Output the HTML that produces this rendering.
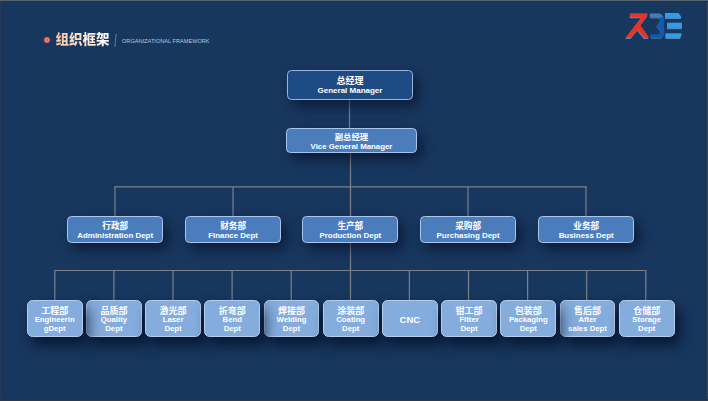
<!DOCTYPE html>
<html lang="zh"><head><meta charset="utf-8"><title>组织框架</title>
<style>
html,body{margin:0;padding:0;}
body{width:708px;height:401px;overflow:hidden;position:relative;background:#17365f;font-family:"Liberation Sans", "Noto Sans CJK SC", sans-serif;color:#fff;}
#bg{position:absolute;left:0;top:0;width:708px;height:401px;background:#18375f;}
#frame{position:absolute;left:0;top:0;width:708px;height:401px;z-index:50;}
#frame i{position:absolute;display:block;}
.bx{position:absolute;box-sizing:border-box;border-radius:4.5px;text-align:center;font-weight:bold;box-shadow:5px 6px 13px rgba(3,10,32,0.62);display:flex;flex-direction:column;justify-content:center;align-items:center;}
.bx .cn{display:block;white-space:nowrap;}
.bx .en{display:block;white-space:nowrap;}
.b1{background:#1f4b85;border:1px solid #98b6d9;}
.b2{background:#4b7dbd;border:1px solid #a9c6ea;}
.b4{background:#84acdd;border:1px solid #b4cdec;border-radius:5.5px;box-shadow:5px 8px 14px rgba(2,8,28,0.7);}
.b12 .cn{font-size:9px;line-height:10px;margin-top:2.6px;}
.b12 .en{font-size:8px;line-height:10px;}
.bv .cn{font-size:8.4px;}
.bv .en{font-size:7.85px;}
.b3 .cn{font-size:8.6px;line-height:9.4px;margin-top:2.9px;margin-bottom:-0.7px;}
.b3 .en{font-size:7.95px;line-height:9.6px;}
.b4 .cnc{font-size:9.5px;line-height:11px;display:block;margin-top:2px;}
.b4 .cn{font-size:9px;line-height:9.4px;margin-top:3.0px;margin-bottom:0.4px;}
.b4 .en{font-size:7.75px;line-height:8.6px;}
#ttl{position:absolute;left:55.5px;top:30.3px;font-size:13.5px;line-height:20px;font-weight:900;white-space:nowrap;background:linear-gradient(90deg,#f7c7a8 0%,#ffffff 100%);-webkit-background-clip:text;background-clip:text;color:transparent;}
#sub{position:absolute;left:122px;top:37.1px;font-size:5.58px;line-height:9px;white-space:nowrap;color:#bcc5d3;letter-spacing:0.02px;}
#dot{position:absolute;left:43.5px;top:37px;width:6px;height:6px;border-radius:50%;background:#e8705c;}
#slash{position:absolute;left:115.1px;top:34.2px;width:0.8px;height:12.6px;background:#6c7a92;transform:skewX(-6.5deg);}
svg{position:absolute;left:0;top:0;}
</style></head><body>
<div id="bg"></div>
<svg width="708" height="401" viewBox="0 0 708 401"><g stroke="#7b808a" stroke-width="1.2" fill="none"><path d="M349.5 100.0L349.5 129.0"/><path d="M350.5 152.0L350.5 300.0"/><path d="M114.4 186.8L586.6 186.8"/><path d="M115.0 186.8L115.0 216.0"/><path d="M233.0 186.8L233.0 216.0"/><path d="M468.0 186.8L468.0 216.0"/><path d="M586.0 186.8L586.0 216.0"/><path d="M54.2 270.5L646.4 270.5"/><path d="M54.8 270.5L54.8 300.0"/><path d="M113.9 270.5L113.9 300.0"/><path d="M173.0 270.5L173.0 300.0"/><path d="M232.1 270.5L232.1 300.0"/><path d="M291.2 270.5L291.2 300.0"/><path d="M409.4 270.5L409.4 300.0"/><path d="M468.5 270.5L468.5 300.0"/><path d="M527.6 270.5L527.6 300.0"/><path d="M586.7 270.5L586.7 300.0"/><path d="M645.8 270.5L645.8 300.0"/></g></svg>
<div id="dot"></div><div id="ttl">组织框架</div><div id="slash"></div><div id="sub">ORGANIZATIONAL FRAMEWORK</div>
<svg id="logo" width="708" height="401" viewBox="0 0 708 401">
<g fill="#5f84b3">
<path transform="translate(-0.5,1.3)" d="M630.2 13.2H645.6Q648.4 13.3 647.3 15.8L640.2 24.9L649.1 37.6H644.2L637.7 29.4L631.1 37.6H625.6L641.6 17H630.2Z"/>
<path transform="translate(-0.3,0.9)" opacity="0.7" d="M649.8 13.6H660.3L664.3 17.6V23.9L663 25.7L664.3 27.5V33.9L661.1 37.8H651.4L650.6 34.2H660V30.2L656.6 25.7L660 21.4V17.6H650.2Z"/>
<path transform="translate(0,2.1)" d="M665 13.1H678.6L681.4 17H665Z"/><path transform="translate(0,1.05)" d="M665 13.1H678.6L681.4 17H665Z"/>
<path transform="translate(0,2.1)" d="M667 22.7H681.9V27.1H667Z"/><path transform="translate(0,1.05)" d="M667 22.7H681.9V27.1H667Z"/>
<path transform="translate(0,1.6)" d="M665.6 33.3H681.6L680 37.3H665.6Z"/><path transform="translate(0,0.8)" d="M665.6 33.3H681.6L680 37.3H665.6Z"/>
</g>
<path fill="#e83323" d="M630.2 13.2H645.6Q648.4 13.3 647.3 15.8L640.2 24.9L649.1 37.6H644.2L637.7 29.4L631.1 37.6H625.6L641.6 17H630.2Z"/>
<path fill="#0e5cb2" d="M649.8 13.6H660.3L664.3 17.6V23.9L663 25.7L664.3 27.5V33.9L661.1 37.8H651.4L650.6 34.2H660V30.2L656.6 25.7L660 21.4V17.6H650.2Z"/>
<path fill="#6e8fbd" opacity="0.6" d="M649.8 13.6H660.3L663.2 16.5L660 17.6H650.2Z"/>
<path fill="#2b9fe9" d="M665 13.1H678.6L681.4 17H665Z"/><path fill="#2b9fe9" d="M667 22.7H681.9V27.1H667Z"/><path fill="#2b9fe9" d="M665.6 33.3H681.6L680 37.3H665.6Z"/>
</svg>
<div class="bx b1 b12" style="left:287.2px;top:70.4px;width:125.6px;height:29.2px"><span class="cn">总经理</span><span class="en">General Manager</span></div>
<div class="bx b2 b12 bv" style="left:286.0px;top:128.4px;width:131.0px;height:24.2px"><span class="cn">副总经理</span><span class="en">Vice General Manager</span></div>
<div class="bx b2 b3" style="left:67.3px;top:216.1px;width:95.8px;height:26.9px"><span class="cn">行政部</span><span class="en">Administration Dept</span></div>
<div class="bx b2 b3" style="left:185.2px;top:216.1px;width:95.8px;height:26.9px"><span class="cn">财务部</span><span class="en">Finance Dept</span></div>
<div class="bx b2 b3" style="left:302.4px;top:216.1px;width:95.8px;height:26.9px"><span class="cn">生产部</span><span class="en">Production Dept</span></div>
<div class="bx b2 b3" style="left:420.2px;top:216.1px;width:95.8px;height:26.9px"><span class="cn">采购部</span><span class="en">Purchasing Dept</span></div>
<div class="bx b2 b3" style="left:538.3px;top:216.1px;width:95.8px;height:26.9px"><span class="cn">业务部</span><span class="en">Business Dept</span></div>
<div class="bx b4" style="z-index:5;left:26.8px;top:300.0px;width:55.8px;height:37.3px"><span class="cn">工程部</span><span class="en">Engineerin<br>gDept</span></div>
<div class="bx b4" style="z-index:1;left:86.0px;top:300.0px;width:55.8px;height:37.3px"><span class="cn">品质部</span><span class="en">Quality<br>Dept</span></div>
<div class="bx b4" style="z-index:5;left:145.2px;top:300.0px;width:55.8px;height:37.3px"><span class="cn">激光部</span><span class="en">Laser<br>Dept</span></div>
<div class="bx b4" style="z-index:5;left:204.4px;top:300.0px;width:55.8px;height:37.3px"><span class="cn">折弯部</span><span class="en">Bend<br>Dept</span></div>
<div class="bx b4" style="z-index:1;left:263.6px;top:300.0px;width:55.8px;height:37.3px"><span class="cn">焊接部</span><span class="en">Welding<br>Dept</span></div>
<div class="bx b4" style="z-index:5;left:322.8px;top:300.0px;width:55.8px;height:37.3px"><span class="cn">涂装部</span><span class="en">Coating<br>Dept</span></div>
<div class="bx b4" style="z-index:5;left:382.0px;top:300.0px;width:55.8px;height:37.3px"><span class="en"><span class="cnc">CNC</span></span></div>
<div class="bx b4" style="z-index:5;left:441.2px;top:300.0px;width:55.8px;height:37.3px"><span class="cn">钳工部</span><span class="en">Fitter<br>Dept</span></div>
<div class="bx b4" style="z-index:5;left:500.4px;top:300.0px;width:55.8px;height:37.3px"><span class="cn">包装部</span><span class="en">Packaging<br>Dept</span></div>
<div class="bx b4" style="z-index:1;left:559.6px;top:300.0px;width:55.8px;height:37.3px"><span class="cn">售后部</span><span class="en">After<br>sales Dept</span></div>
<div class="bx b4" style="z-index:5;left:618.8px;top:300.0px;width:55.8px;height:37.3px"><span class="cn">仓储部</span><span class="en">Storage<br>Dept</span></div>
<div id="frame"><i style="left:1px;top:0;width:1px;height:401px;background:#1b3659"></i><i style="left:0;top:0;width:1px;height:401px;background:#253a58"></i><i style="left:706px;top:0;width:1px;height:401px;background:#233652"></i><i style="left:707px;top:0;width:1px;height:401px;background:#3b4a5b"></i><i style="left:0;top:399px;width:708px;height:1px;background:#1d3558"></i><i style="left:0;top:400px;width:708px;height:1px;background:#2b384c"></i><i style="left:0;top:1px;width:708px;height:1px;background:#22324a"></i><i style="left:0;top:0;width:708px;height:1px;background:#57626f"></i></div>
</body></html>
